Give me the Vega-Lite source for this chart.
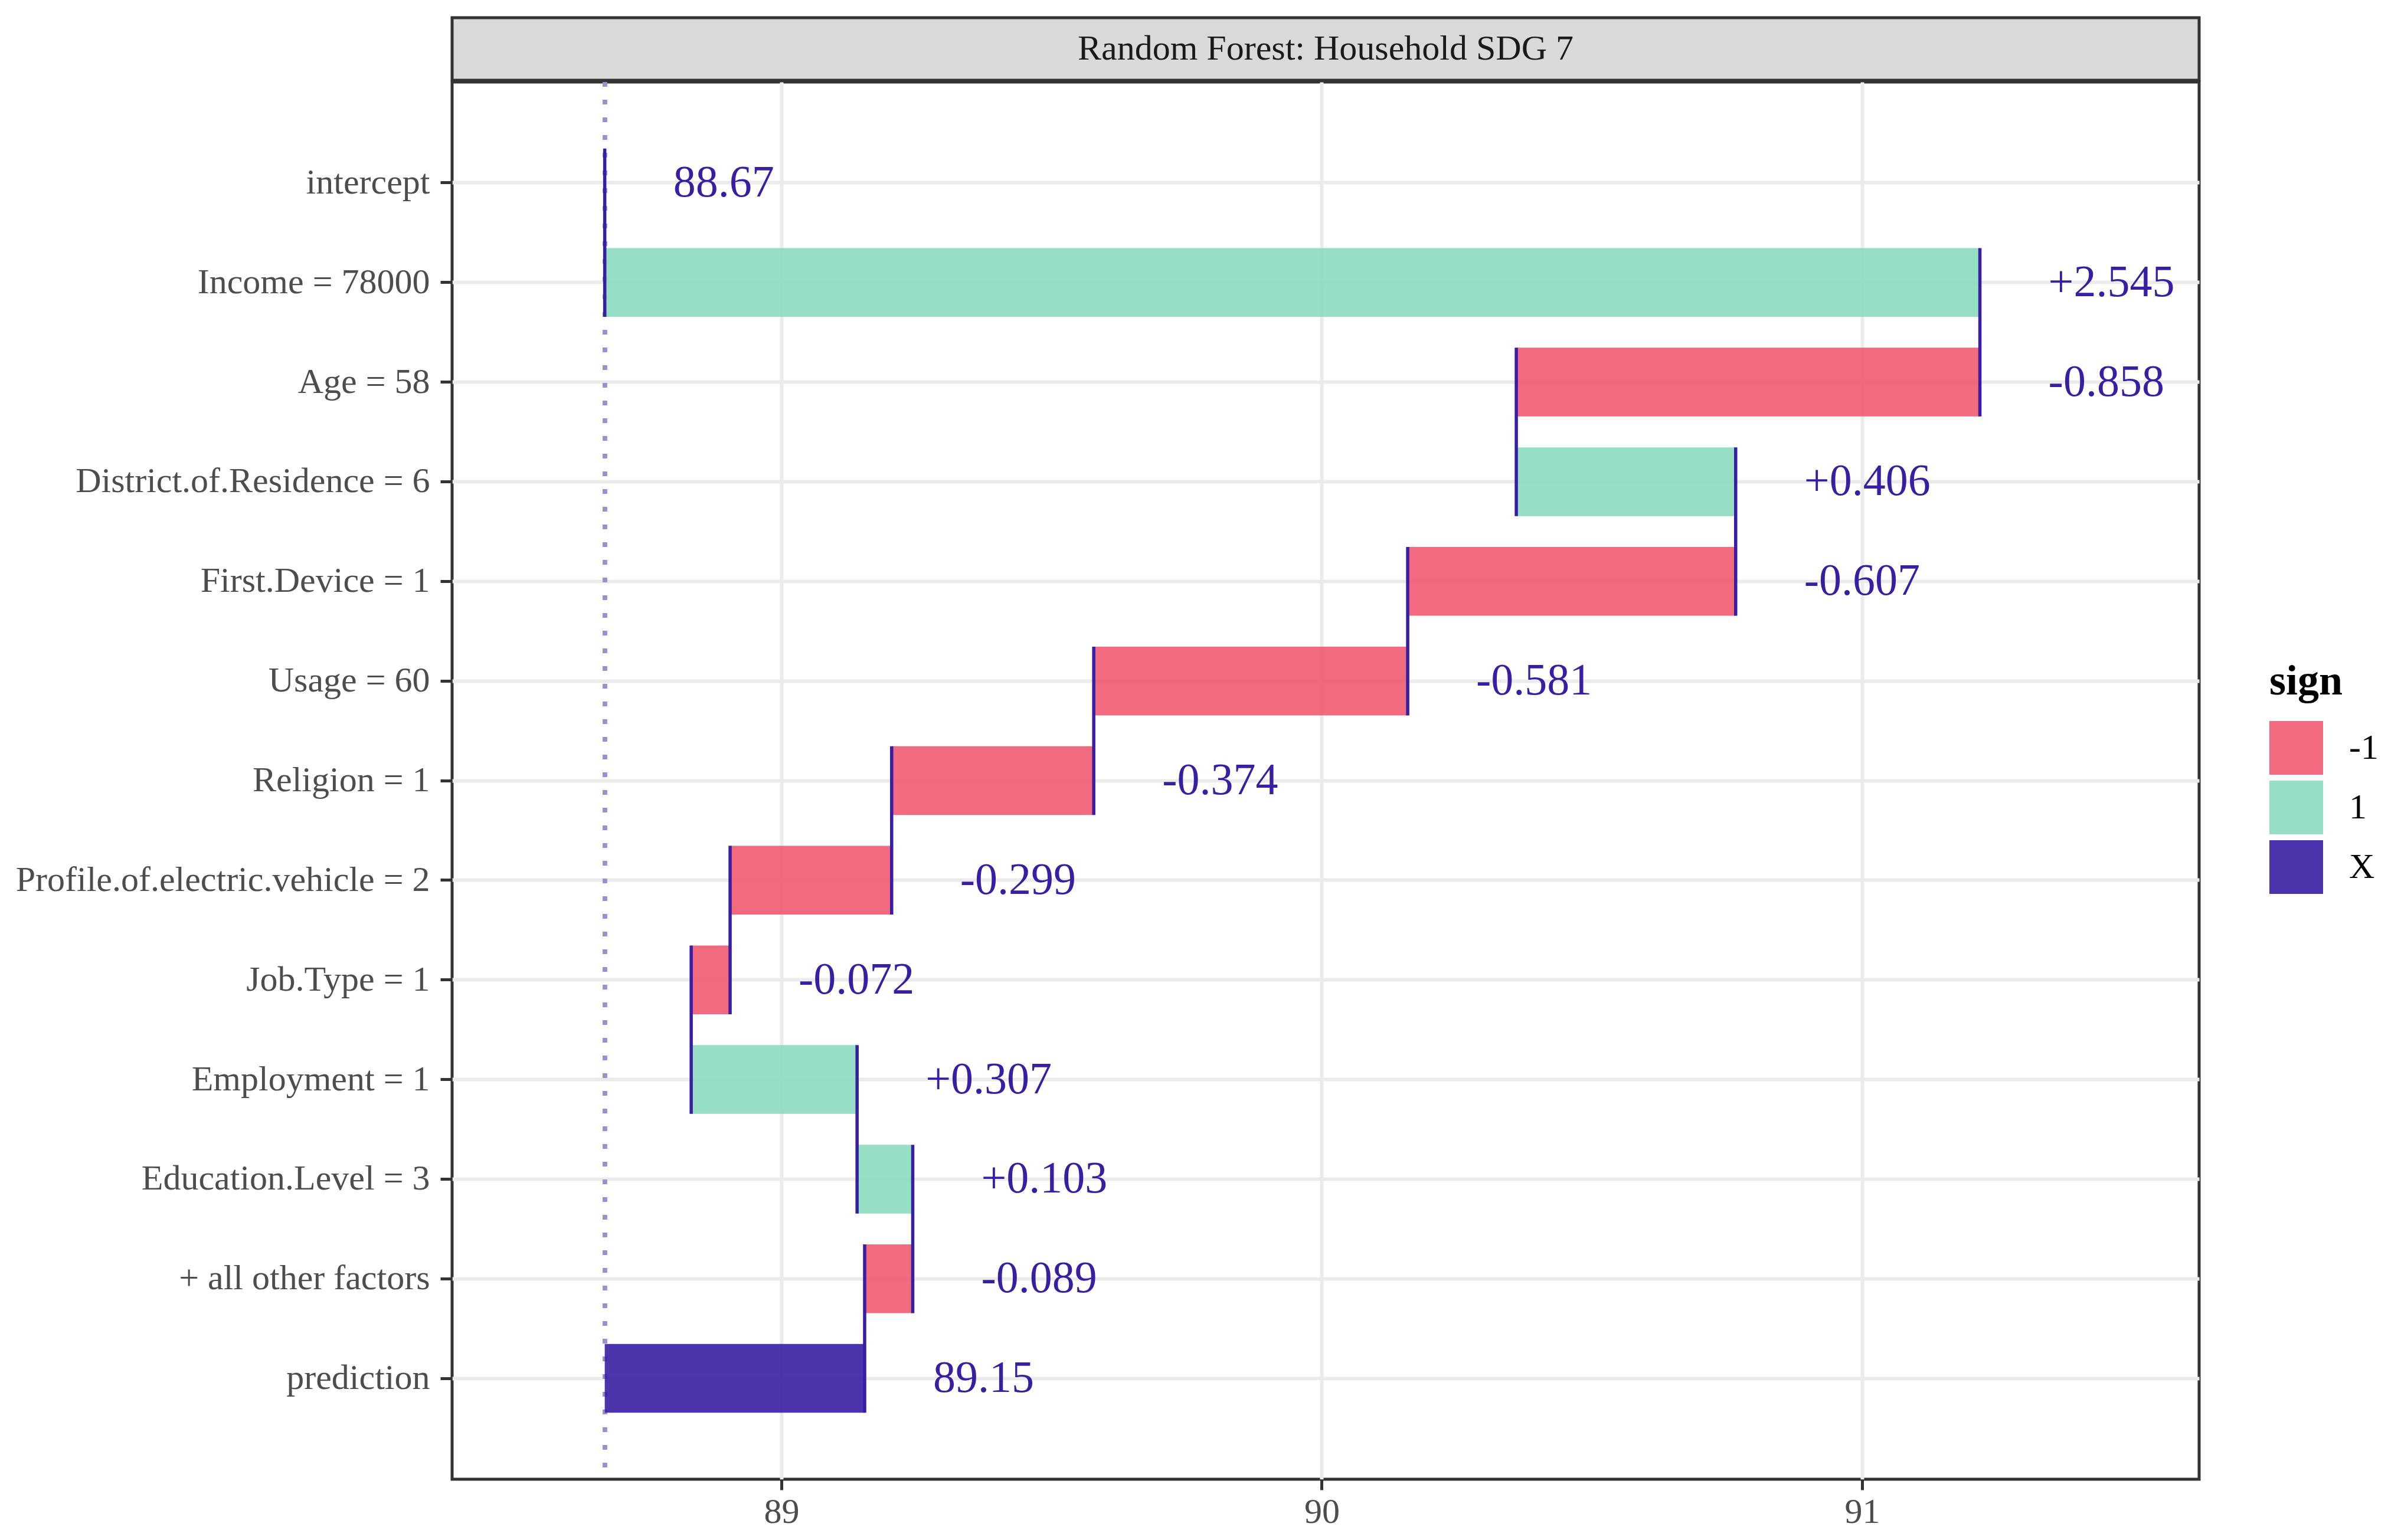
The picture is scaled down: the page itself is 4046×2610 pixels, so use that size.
{
  "$schema": "https://vega.github.io/schema/vega-lite/v6.json",
  "padding": {"left": 23, "top": 27, "right": 10, "bottom": 10},
  "background": "white",
  "spacing": -6,
  "config": {
    "font": "Liberation Serif",
    "axis": {"labelFont": "Liberation Serif", "titleFont": "Liberation Serif"},
    "legend": {"labelFont": "Liberation Serif", "titleFont": "Liberation Serif"}
  },
  "vconcat": [
    {
      "width": 2960,
      "height": 106,
      "view": {"fill": "#D9D9D9", "stroke": "#333333", "strokeWidth": 5},
      "data": {"values": [{"panel": "Random Forest: Household SDG 7"}]},
      "mark": {"type": "text", "fontSize": 60, "color": "#1A1A1A", "baseline": "middle", "align": "center"},
      "encoding": {"text": {"field": "panel"}}
    },
    {
      "width": 2960,
      "height": 2368,
      "view": {"stroke": "#333333", "strokeWidth": 5, "fill": "white"},
      "data": {
        "values": [
          {"variable": "intercept", "start": 88.673, "end": 88.673, "hi": 88.673, "sign": "X", "label": "88.67", "next": "Income = 78000"},
          {"variable": "Income = 78000", "start": 88.673, "end": 91.218, "hi": 91.218, "sign": "1", "label": "+2.545", "next": "Age = 58"},
          {"variable": "Age = 58", "start": 91.218, "end": 90.36, "hi": 91.218, "sign": "-1", "label": "-0.858", "next": "District.of.Residence = 6"},
          {"variable": "District.of.Residence = 6", "start": 90.36, "end": 90.766, "hi": 90.766, "sign": "1", "label": "+0.406", "next": "First.Device = 1"},
          {"variable": "First.Device = 1", "start": 90.766, "end": 90.159, "hi": 90.766, "sign": "-1", "label": "-0.607", "next": "Usage = 60"},
          {"variable": "Usage = 60", "start": 90.159, "end": 89.578, "hi": 90.159, "sign": "-1", "label": "-0.581", "next": "Religion = 1"},
          {"variable": "Religion = 1", "start": 89.578, "end": 89.204, "hi": 89.578, "sign": "-1", "label": "-0.374", "next": "Profile.of.electric.vehicle = 2"},
          {"variable": "Profile.of.electric.vehicle = 2", "start": 89.204, "end": 88.905, "hi": 89.204, "sign": "-1", "label": "-0.299", "next": "Job.Type = 1"},
          {"variable": "Job.Type = 1", "start": 88.905, "end": 88.833, "hi": 88.905, "sign": "-1", "label": "-0.072", "next": "Employment = 1"},
          {"variable": "Employment = 1", "start": 88.833, "end": 89.14, "hi": 89.14, "sign": "1", "label": "+0.307", "next": "Education.Level = 3"},
          {"variable": "Education.Level = 3", "start": 89.14, "end": 89.243, "hi": 89.243, "sign": "1", "label": "+0.103", "next": "+ all other factors"},
          {"variable": "+ all other factors", "start": 89.243, "end": 89.154, "hi": 89.243, "sign": "-1", "label": "-0.089", "next": "prediction"},
          {"variable": "prediction", "start": 88.673, "end": 89.154, "hi": 89.154, "sign": "X", "label": "89.15", "next": null}
        ]
      },
      "layer": [
        {
          "mark": {"type": "rule", "color": "#9B8FD1", "strokeWidth": 7, "strokeDash": [8, 22]},
          "encoding": {"x": {"datum": 88.673, "type": "quantitative"}}
        },
        {
          "mark": {"type": "bar", "opacity": 0.9},
          "encoding": {
            "x": {
              "field": "start",
              "type": "quantitative",
              "scale": {"domain": [88.3905, 91.6237], "nice": false, "zero": false},
              "axis": {
                "title": null,
                "values": [89, 90, 91],
                "format": "d",
                "domain": false,
                "grid": true,
                "gridColor": "#EBEBEB",
                "gridWidth": 6,
                "tickSize": 18,
                "tickWidth": 5,
                "tickColor": "#333333",
                "labelFontSize": 60,
                "labelColor": "#4D4D4D",
                "labelPadding": 8
              }
            },
            "x2": {"field": "end"},
            "y": {
              "field": "variable",
              "type": "nominal",
              "sort": null,
              "scale": {
                "domain": ["intercept", "Income = 78000", "Age = 58", "District.of.Residence = 6", "First.Device = 1", "Usage = 60", "Religion = 1", "Profile.of.electric.vehicle = 2", "Job.Type = 1", "Employment = 1", "Education.Level = 3", "+ all other factors", "prediction"],
                "paddingInner": 0.31,
                "paddingOuter": 0.667
              },
              "axis": {
                "title": null,
                "domain": false,
                "grid": true,
                "gridColor": "#EBEBEB",
                "gridWidth": 6,
                "tickSize": 20,
                "tickWidth": 5,
                "tickColor": "#333333",
                "labelFontSize": 60,
                "labelColor": "#4D4D4D",
                "labelPadding": 18,
                "labelLimit": 2000
              }
            },
            "color": {
              "field": "sign",
              "type": "nominal",
              "scale": {"domain": ["-1", "1", "X"], "range": ["#f05a71", "#8bdcbe", "#371ea3"]},
              "legend": {
                "title": "sign",
                "orient": "none",
                "legendX": 3079,
                "legendY": 1090,
                "padding": 0,
                "titleFontSize": 72,
                "titleFontWeight": "bold",
                "titleColor": "black",
                "titlePadding": 30,
                "labelFontSize": 60,
                "labelColor": "black",
                "labelOffset": 44,
                "symbolType": "square",
                "symbolSize": 8281,
                "symbolStrokeWidth": 0,
                "rowPadding": 10
              }
            }
          }
        },
        {
          "transform": [{"filter": "datum.next != null"}],
          "mark": {"type": "rule", "color": "#371ea3", "strokeWidth": 5.5},
          "encoding": {
            "x": {"field": "end", "type": "quantitative"},
            "y": {"field": "variable", "type": "nominal", "bandPosition": 0},
            "y2": {"field": "next", "bandPosition": 1}
          }
        },
        {
          "mark": {"type": "text", "align": "left", "baseline": "middle", "dx": 116, "fontSize": 76, "color": "#371ea3"},
          "encoding": {
            "x": {"field": "hi", "type": "quantitative"},
            "y": {"field": "variable", "type": "nominal"},
            "text": {"field": "label"}
          }
        }
      ]
    }
  ]
}
